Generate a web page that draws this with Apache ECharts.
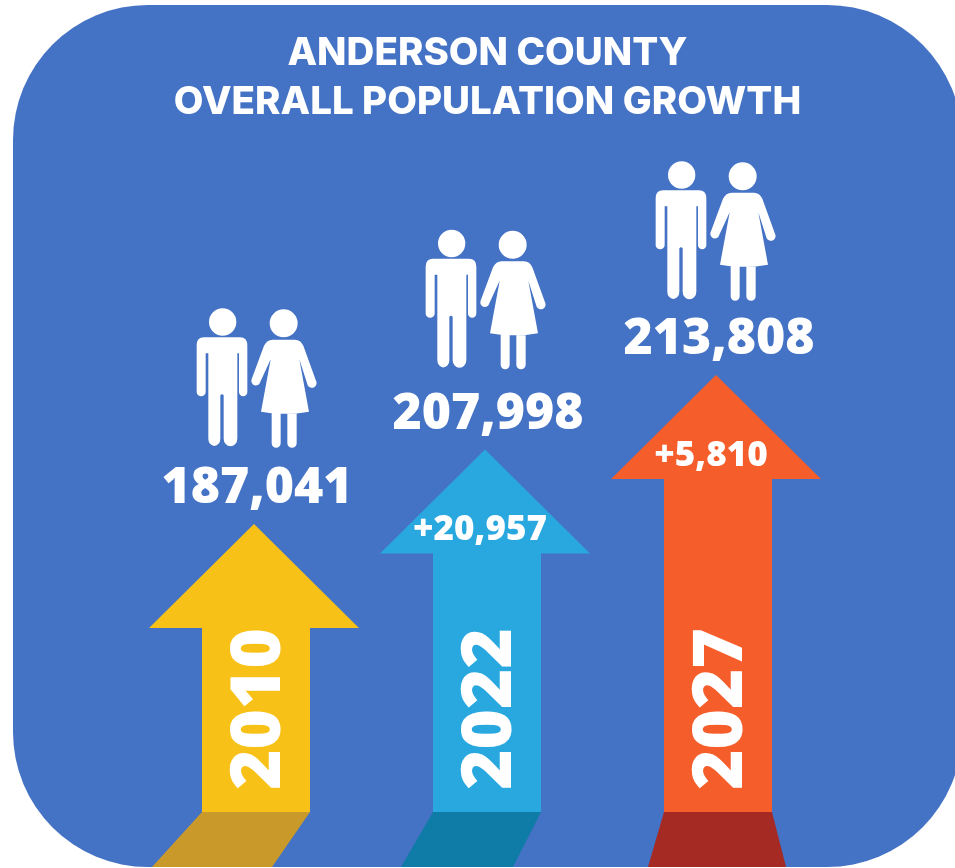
<!DOCTYPE html>
<html>
<head>
<meta charset="utf-8">
<style>html,body{margin:0;padding:0;background:#fff}#c{width:955px;height:868px}</style>
<script src="https://cdn.jsdelivr.net/npm/echarts@6/dist/echarts.min.js"></script>
</head>
<body>
<div id="c"></div>
<script>
const titleText = "ANDERSON COUNTY\nOVERALL POPULATION GROWTH";
const years = ["2010", "2022", "2027"];
const population = [187041, 207998, 213808];
const change = [null, 20957, 5810];

const arrowColors = ["#F8C118", "#29A8E0", "#F55D2B"];
const shadowColors = ["#C99A2A", "#0E7CA6", "#A52A23"];
const FONT = "'Open Sans', Inter, sans-serif";
const TITLE_FONT = "Inter, 'Open Sans', sans-serif";

const MAN = "M192 142H300Q322 142 322 166V306A12.5 13 0 0 1 297 306V190L292 190V446A20 22 0 0 1 251 446V316Q246 310 241 316V446A18 22 0 0 1 205 446V190L197 190V306A13.5 13 0 0 1 170 306V166Q170 142 192 142Z" +
  "M207 96A41 41 0 1 0 289 96A41 41 0 1 0 207 96Z";
const WOMAN = "M398 149H465Q482 149 490 167L528 272A14 14 0 0 1 503 286L478 208L507 365Q435 378 363 365L392 208L358 282A14 14 0 0 1 334 270L372 167Q381 149 398 149Z" +
  "M395 370H422V460A13.5 13 0 0 1 395 460ZM442 370H470V460A14 13 0 0 1 442 460Z" +
  "M389 100A42 42 0 1 0 473 100A42 42 0 1 0 389 100Z";

// layout of one arrow, relative to its tip
const shadowFoot = [[-102, 18], [-84, 28], [-68, 70]];
const iconNudge = [[0, 0], [-2, -4], [-3, 2]];

function fmt(n) { return n.toLocaleString("en-US"); }

function renderItem(params, api) {
  const i = params.dataIndex;
  const tip = api.coord([api.value(0), api.value(1)]);
  const tx = tip[0], ty = tip[1];
  const H = api.getHeight();
  const ground = H - 56, floor = H - 1;
  const children = [
    { type: "polygon", shape: { points: [
        [tx - 52, ground], [tx + 56, ground],
        [tx + shadowFoot[i][1], floor], [tx + shadowFoot[i][0], floor]] },
      style: { fill: shadowColors[i] } },
    { type: "polygon", shape: { points: [
        [tx, ty], [tx + 105, ty + 104], [tx + 56, ty + 104], [tx + 56, ground],
        [tx - 52, ground], [tx - 52, ty + 104], [tx - 105, ty + 104]] },
      style: { fill: arrowColors[i] } },
    { type: "text", x: tx + 6, y: ground - 103, rotation: Math.PI / 2,
      style: { text: years[i], fill: "#fff", font: "800 69px " + FONT, align: "center", verticalAlign: "middle" } },
    { type: "text", x: tx + 3, y: ty - 35,
      style: { text: fmt(population[i]), fill: "#fff", font: "800 50px " + FONT, align: "center", verticalAlign: "middle" } }
  ];
  if (change[i] != null) {
    children.push({ type: "text", x: tx - 5, y: ty + 81,
      style: { text: "+" + fmt(change[i]), fill: "#fff", font: "800 35px " + FONT, align: "center", verticalAlign: "middle" } });
  }
  const ix = tx - 114 + iconNudge[i][0], iy = ty - 234 + iconNudge[i][1];
  children.push({ type: "path", x: ix, y: iy, scaleX: 1 / 3, scaleY: 1 / 3,
    shape: { pathData: MAN }, style: { fill: "#fff" } });
  children.push({ type: "path", x: ix, y: iy, scaleX: 1 / 3, scaleY: 1 / 3,
    shape: { pathData: WOMAN }, style: { fill: "#fff" } });
  return { type: "group", children };
}

const chart = echarts.init(document.getElementById("c"), null, { renderer: "canvas" });
chart.setOption({
  animation: false,
  backgroundColor: "#fff",
  graphic: [{ type: "rect", z: -10, silent: true,
    shape: { x: 13, y: 5, width: 949, height: 862, r: 135 }, style: { fill: "#4472C4" } }],
  title: { text: titleText, left: 482.5, top: 23.5, textAlign: "center",
    textStyle: { color: "#fff", fontFamily: TITLE_FONT, fontWeight: 800, fontSize: 38.5, lineHeight: 49 } },
  grid: { left: 138.5, width: 693, top: 375, height: 149 },
  xAxis: { type: "category", data: years, show: false },
  yAxis: { type: "category", data: population.map(String), boundaryGap: false, show: false },
  series: [{
    type: "custom", clip: false, renderItem,
    encode: { x: 0, y: 1 },
    data: years.map((y, i) => [y, String(population[i])])
  }]
});
</script>
</body>
</html>
